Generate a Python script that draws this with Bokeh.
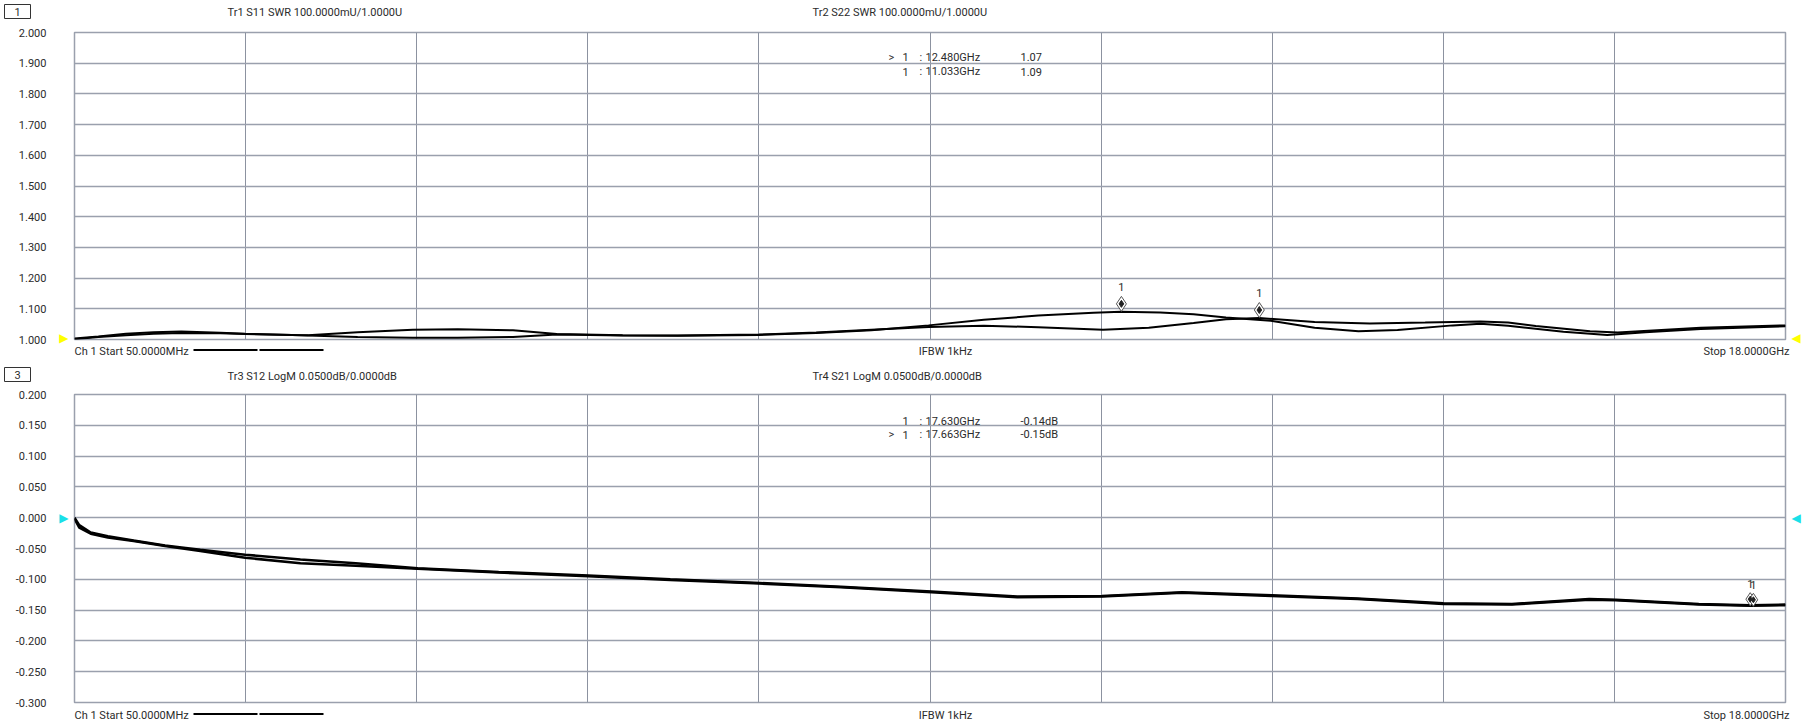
from bokeh.plotting import figure
from bokeh.layouts import column, row
from bokeh.models import (Range1d, FixedTicker, NumeralTickFormatter, Label, Grid, LinearAxis,
                          CustomJSTickFormatter)
from bokeh.core.properties import value
from bokeh.embed import file_html
from bokeh.resources import INLINE

# ---------------- data ----------------
f_start, f_stop = 0.05, 18.0  # GHz

# Tr1 S11 SWR
f_s11 = [0.05, 0.30, 0.59, 0.88, 1.17, 1.58, 1.84, 2.33, 2.50, 3.02, 3.60, 4.07, 4.65, 5.11,
         5.80, 6.38, 7.23, 7.83, 8.41, 9.01, 9.59, 10.16, 10.84, 11.32, 11.79, 12.13, 12.48,
         13.06, 13.64, 14.22, 14.80, 15.09, 15.38, 15.95, 16.24, 17.11, 18.0]
v_s11 = [1.003, 1.010, 1.019, 1.024, 1.026, 1.022, 1.019, 1.015, 1.014, 1.024, 1.032, 1.033,
         1.030, 1.018, 1.014, 1.013, 1.016, 1.023, 1.032, 1.041, 1.045, 1.040, 1.032, 1.038,
         1.054, 1.066, 1.070, 1.057, 1.052, 1.055, 1.059, 1.055, 1.044, 1.027, 1.023, 1.038, 1.046]

# Tr2 S22 SWR
f_s22 = [0.05, 0.30, 0.59, 0.88, 1.17, 1.58, 1.84, 2.33, 2.50, 3.02, 3.60, 4.07, 4.65, 5.11,
         5.80, 6.38, 7.23, 7.83, 8.41, 9.01, 9.59, 10.16, 10.74, 11.03, 11.44, 11.79, 12.13,
         12.60, 13.06, 13.52, 13.93, 14.51, 14.80, 15.09, 15.67, 16.13, 16.53, 17.11, 18.0]
v_s22 = [1.001, 1.008, 1.014, 1.019, 1.021, 1.020, 1.018, 1.015, 1.013, 1.008, 1.006, 1.006,
         1.008, 1.016, 1.013, 1.012, 1.015, 1.021, 1.030, 1.046, 1.064, 1.078, 1.087, 1.090,
         1.088, 1.082, 1.072, 1.061, 1.038, 1.027, 1.031, 1.046, 1.051, 1.045, 1.025, 1.015,
         1.024, 1.034, 1.043]

# Tr3 S12 / Tr4 S21 LogM (dB)
f_log = [0.05, 0.10, 0.22, 0.40, 0.67, 1.00, 1.37, 1.84, 2.42, 3.00, 3.65, 4.50, 5.44, 6.30,
         7.24, 8.09, 9.04, 9.94, 10.83, 11.67, 12.61, 13.51, 14.41, 15.13, 15.94, 16.22,
         17.09, 17.63, 18.0]
v_s12 = [0.000, -0.012, -0.024, -0.030, -0.037, -0.045, -0.052, -0.060, -0.068, -0.074,
         -0.082, -0.088, -0.094, -0.100, -0.106, -0.112, -0.120, -0.128, -0.127, -0.121,
         -0.126, -0.131, -0.139, -0.140, -0.132, -0.133, -0.140, -0.142, -0.141]
v_s21 = [-0.002, -0.016, -0.026, -0.032, -0.038, -0.046, -0.054, -0.065, -0.074, -0.078,
         -0.083, -0.089, -0.095, -0.101, -0.107, -0.113, -0.121, -0.129, -0.128, -0.122,
         -0.127, -0.132, -0.140, -0.141, -0.133, -0.134, -0.141, -0.143, -0.142]

# markers
mk_top_f = [12.480, 11.033]
mk_top_v = [1.07, 1.09]
mk_top_rows = [("> ", "1", "12.480GHz", "1.07"), ("", "1", "11.033GHz", "1.09")]
mk_bot_f = [17.630, 17.663]
mk_bot_v = [-0.142, -0.143]
mk_bot_rows = [("", "1", "17.630GHz", "-0.14dB"), ("> ", "1", "17.663GHz", "-0.15dB")]

yt_top = [1.0, 1.1, 1.2, 1.3, 1.4, 1.5, 1.6, 1.7, 1.8, 1.9, 2.0]
yt_bot = [-0.30, -0.25, -0.20, -0.15, -0.10, -0.05, 0.0, 0.05, 0.10, 0.15, 0.20]

titles_top = ["Tr1 S11 SWR 100.0000mU/1.0000U", "Tr2 S22 SWR 100.0000mU/1.0000U"]
titles_bot = ["Tr3 S12 LogM 0.0500dB/0.0000dB", "Tr4 S21 LogM 0.0500dB/0.0000dB"]
footer_texts = ["Ch 1 Start 50.0000MHz", "IFBW 1kHz", "Stop 18.0000GHz"]

# ---------------- style ----------------
FONT = "Roboto"
TXT = "#2b2b2b"
GRID = "#9aa0ad"
W = 1803
BL, BR = 74, 13
xticks = [f_start + i * (f_stop - f_start) / 10 for i in range(11)]


def strip(h):
    s = figure(width=W, height=h, x_range=Range1d(0, W), y_range=Range1d(h, 0),
               output_backend="svg", toolbar_location=None, title=None, min_border=0,
               x_axis_location=None, y_axis_location=None)
    s.center = [r for r in s.center if not isinstance(r, Grid)]
    s.outline_line_color = None
    s.background_fill_color = "white"
    s.border_fill_color = "white"
    return s


def stext(s, xs, ys, texts, align="left"):
    s.text(x=xs, y=ys, text=texts, text_align=align, text_baseline="middle",
           text_font=value(FONT), text_font_size="11px", text_color=TXT)


def header_box(s, num, yc):
    s.rect(x=[17], y=[yc], width=26, height=14, fill_color=None, line_color="#333333",
           line_width=1)
    stext(s, [17], [yc], [num], align="center")


def footer(s, yc):
    stext(s, [74], [yc], [footer_texts[0]])
    s.segment(x0=[193, 259], y0=[yc - 1.5] * 2, x1=[257, 323], y1=[yc - 1.5] * 2,
              line_color="black", line_width=2)
    stext(s, [945], [yc], [footer_texts[1]], align="center")
    stext(s, [1789], [yc], [footer_texts[2]], align="right")


def tri_axis(level, ch, color):
    return LinearAxis(ticker=FixedTicker(ticks=[level]),
                      formatter=CustomJSTickFormatter(code="return '%s';" % ch),
                      axis_line_color=None, major_tick_line_color=None,
                      minor_tick_line_color=None, major_label_standoff=0,
                      major_label_text_color=color, major_label_text_font="DejaVu Sans",
                      major_label_text_font_size="12px")


def panel(height, btop, bbot, yr, yt, tri_level, tri_color):
    p = figure(width=W, height=height, x_range=Range1d(f_start, f_stop),
               y_range=Range1d(*yr), output_backend="svg", toolbar_location=None,
               title=None, x_axis_location=None, y_axis_location=None,
               min_border_left=BL, min_border_right=BR, min_border_top=btop,
               min_border_bottom=bbot)
    p.center = [r for r in p.center if not isinstance(r, Grid)]
    p.add_layout(Grid(dimension=0, ticker=FixedTicker(ticks=xticks),
                      grid_line_color="#8c92a0", grid_line_width=1))
    p.add_layout(Grid(dimension=1, ticker=FixedTicker(ticks=yt),
                      grid_line_color=GRID, grid_line_width=1.4))
    p.add_layout(tri_axis(tri_level, "\u25B6", tri_color), "left")
    ax = LinearAxis(ticker=FixedTicker(ticks=yt), formatter=NumeralTickFormatter(format="0.000"),
                    axis_line_color=None, major_tick_line_color=None,
                    minor_tick_line_color=None, major_label_standoff=4,
                    major_label_text_font=FONT, major_label_text_font_size="11px",
                    major_label_text_color=TXT)
    p.add_layout(ax, "left")
    p.add_layout(tri_axis(tri_level, "\u25C0", tri_color), "right")
    p.outline_line_color = GRID
    p.outline_line_width = 1.5
    p.background_fill_color = "white"
    p.border_fill_color = "white"
    return p


def lab(p, x, y, text, align="left"):
    p.add_layout(Label(x=x, y=y, x_units="screen", y_units="screen", text=text,
                       text_align=align, text_baseline="middle", text_font=FONT,
                       text_font_size="11px", text_color=TXT))


def marker_rows(p, rows, row_y):
    for (arrow, n, fr, val), yy in zip(rows, row_y):
        if arrow:
            lab(p, 814, yy, ">")
        lab(p, 828, yy, n)
        lab(p, 845, yy, ":")
        lab(p, 851, yy, fr)
        lab(p, 946, yy, val)


# ---------------- header strip 1 ----------------
h1 = strip(24)
header_box(h1, "1", 11)
stext(h1, [227, 812], [12, 12], titles_top)

# ---------------- top panel ----------------
H1_FRAME = 307
p1 = panel(321, 8, 6, (1.0, 2.0), yt_top, 1.0, "#ffff00")
p1.line(f_s11, v_s11, line_color="black", line_width=2)
p1.line(f_s22, v_s22, line_color="black", line_width=2)
u1 = (2.0 - 1.0) / H1_FRAME
p1.scatter(mk_top_f, [v + 8 * u1 for v in mk_top_v], marker="diamond", size=15,
           fill_color="white", line_color="#555555", line_width=1)
p1.scatter(mk_top_f, [v + 8 * u1 for v in mk_top_v], marker="diamond", size=7,
           fill_color="#222222", line_color="#222222")
p1.text(mk_top_f, mk_top_v, text=["1", "1"], text_align="center", text_baseline="middle",
        y_offset=-25, text_font=value(FONT), text_font_size="11px", text_color=TXT)
marker_rows(p1, mk_top_rows, [282.5, 268])

# ---------------- middle strip ----------------
m = strip(43)
footer(m, 6)
header_box(m, "3", 29)
stext(m, [227, 812], [31, 31], titles_bot)

# ---------------- bottom panel ----------------
H2_FRAME = 308
p2 = panel(320, 6, 6, (-0.3, 0.2), yt_bot, 0.0, "#19e0e8")
p2.line(f_log, v_s12, line_color="black", line_width=2.5)
p2.line(f_log, v_s21, line_color="black", line_width=2.5)
u2 = 0.5 / H2_FRAME
p2.scatter(mk_bot_f, [v + 6 * u2 for v in mk_bot_v], marker="diamond", size=13,
           fill_color="white", line_color="#555555", line_width=1)
p2.scatter(mk_bot_f, [v + 6 * u2 for v in mk_bot_v], marker="diamond", size=6,
           fill_color="#222222", line_color="#222222")
p2.text(mk_bot_f, mk_bot_v, text=["1", "1"], text_align="center", text_baseline="middle",
        y_offset=-21, text_font=value(FONT), text_font_size="11px", text_color=TXT)
marker_rows(p2, mk_bot_rows, [281.3, 268])

# ---------------- footer strip 2 ----------------
f2 = strip(15)
footer(f2, 7)

layout = column(row(h1), p1, column(m), p2, row(f2), spacing=0)
open("out.html", "w").write(file_html(layout, INLINE))
